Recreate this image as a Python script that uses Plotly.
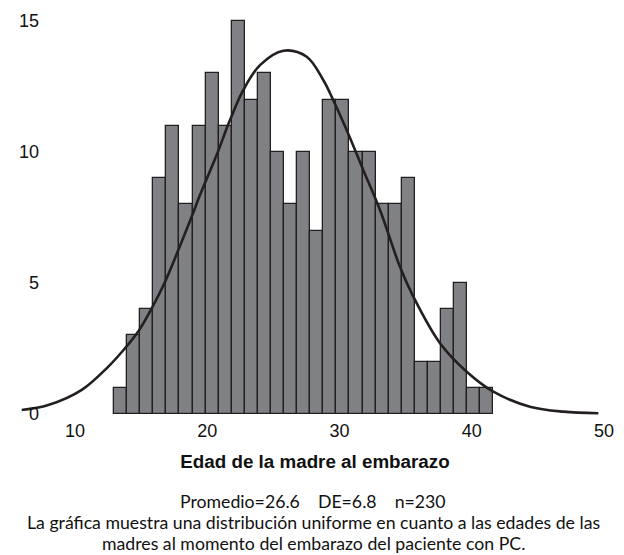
import plotly.graph_objects as go

# ---- data ----
AGE_BINS = list(range(13, 42))  # one-year age classes
COUNTS = [1, 3, 4, 9, 11, 8, 11, 13, 11, 15, 12, 13, 10, 8, 10, 7,
          12, 12, 10, 10, 8, 8, 9, 2, 2, 4, 5, 1, 1]

# fitted normal curve
CURVE_X = [5.97, 7.98, 10.51, 12.52, 13.78, 14.86, 15.80, 16.81, 17.81, 18.82,
           19.45, 20.71, 21.72, 22.73, 23.99, 25.75, 27.52, 28.77, 29.53, 30.54,
           31.80, 33.06, 34.57, 35.58, 37.60, 39.62, 41.63, 44.40, 46.92, 49.57]
CURVE_Y = [0.15, 0.34, 0.92, 1.81, 2.51, 3.21, 4.03, 5.05, 6.26, 7.53,
           8.36, 9.89, 11.22, 12.37, 13.32, 13.87, 13.64, 12.75, 11.98, 10.84,
           9.31, 7.79, 5.62, 4.48, 2.70, 1.61, 0.85, 0.28, 0.09, 0.03]

X_TICKS = [10, 20, 30, 40, 50]
Y_TICKS = [0, 5, 10, 15]

X_TITLE = "Edad de la madre al embarazo"
STATS_TEXT = "Promedio=26.6\u00a0\u00a0\u00a0\u00a0DE=6.8\u00a0\u00a0\u00a0\u00a0n=230"
NOTE_LINE1 = "La gráfica muestra una distribución uniforme en cuanto a las edades de las"
NOTE_LINE2 = "madres al momento del embarazo del paciente con PC."

# ---- geometry / style ----
BIN_START = 12.95
BIN_WIDTH = 0.989
bar_x = [BIN_START + BIN_WIDTH * (a - AGE_BINS[0] + 0.5) for a in AGE_BINS]

BAR_FILL = "#808185"
INK = "#231f20"
TICK_FONT = dict(family="Liberation Sans, Arial, sans-serif", size=18, color="#111111")
NOTE_FONT = dict(family="Lato, sans-serif", size=17.7, color="#111111")

fig = go.Figure()
fig.add_trace(go.Bar(
    x=bar_x, y=COUNTS, width=BIN_WIDTH,
    marker=dict(color=BAR_FILL, line=dict(color=INK, width=1.3)),
    showlegend=False, hoverinfo="y",
))
fig.add_trace(go.Scatter(
    x=CURVE_X, y=CURVE_Y, mode="lines",
    line=dict(color=INK, width=2.6, shape="spline", smoothing=1.0),
    showlegend=False,
))

W, H = 624, 555
L, R, T, B = 15, 9, 8, 137
plot_h = H - T - B

def paper_y(py):
    return (H - B - py) / plot_h

fig.update_layout(
    width=W, height=H,
    margin=dict(l=L, r=R, t=T, b=B),
    paper_bgcolor="white", plot_bgcolor="white",
    bargap=0,
    xaxis=dict(
        range=[5.463, 50.83], domain=[0, 1], automargin=False,
        tickvals=X_TICKS, ticktext=[str(v) for v in X_TICKS],
        showgrid=False, zeroline=False, showline=False, ticks="",
        tickfont=TICK_FONT,
        title=dict(text="<b>" + X_TITLE + "</b>",
                   font=dict(family="Liberation Sans, Arial, sans-serif", size=18.8, color="#111111"),
                   standoff=14),
    ),
    yaxis=dict(
        range=[-0.153, 15.50], anchor="free", position=0.04, automargin=False,
        tickvals=Y_TICKS, ticktext=[str(v) for v in Y_TICKS],
        showgrid=False, zeroline=False, showline=False, ticks="",
        tickfont=TICK_FONT,
    ),
    annotations=[
        dict(text=STATS_TEXT, x=0.497, y=paper_y(501), xref="paper", yref="paper",
             xanchor="center", yanchor="middle", showarrow=False, font=NOTE_FONT),
        dict(text=NOTE_LINE1, x=0.497, y=paper_y(522), xref="paper", yref="paper",
             xanchor="center", yanchor="middle", showarrow=False, font=NOTE_FONT),
        dict(text=NOTE_LINE2, x=0.497, y=paper_y(543), xref="paper", yref="paper",
             xanchor="center", yanchor="middle", showarrow=False, font=NOTE_FONT),
    ],
)

fig.write_html("out.html", config={"displayModeBar": False},
               post_script="document.body.style.margin='0';")
